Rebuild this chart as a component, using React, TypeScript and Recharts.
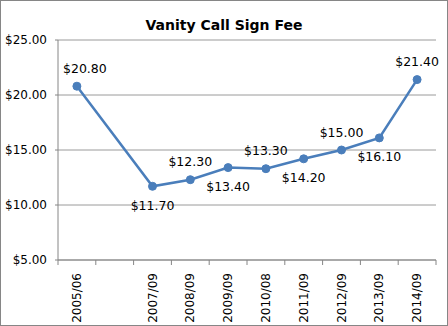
import React from 'react'
import { LineChart, Line, XAxis, YAxis, CartesianGrid, LabelList } from 'recharts'

const periods = ['2005/06', '', '2007/09', '2008/09', '2009/09', '2010/08', '2011/09', '2012/09', '2013/09', '2014/09']
const fees: (number | null)[] = [20.8, null, 11.7, 12.3, 13.4, 13.3, 14.2, 15.0, 16.1, 21.4]
const yTicks = [5, 10, 15, 20, 25]

const data = periods.map((period, i) => ({ period, fee: fees[i] }))

const FONT = '"DejaVu Sans", Verdana, sans-serif'
const AXIS_COLOR = '#868686'
const LINE_COLOR = '#4A7EBB'
const BAND = 37.8

const money = (v: number) => `$${v.toFixed(2)}`

// label order among real points: alternate above / below
const labelRank: number[] = []
let n = 0
fees.forEach((f, i) => {
  labelRank[i] = f == null ? -1 : n++
})

const XTick = (props: any) => {
  const { x, y, payload, index } = props
  const last = index === periods.length - 1
  return (
    <g>
      <line x1={x - BAND / 2} y1={y - 8} x2={x - BAND / 2} y2={y - 3} stroke={AXIS_COLOR} />
      {last && <line x1={x + BAND / 2} y1={y - 8} x2={x + BAND / 2} y2={y - 3} stroke={AXIS_COLOR} />}
      <text
        x={x}
        y={y + 5}
        transform={`rotate(-90, ${x}, ${y + 5})`}
        textAnchor="end"
        dominantBaseline="central"
        fontSize={12}
        fontFamily={FONT}
        fill="#000"
      >
        {payload.value}
      </text>
    </g>
  )
}

const FeeLabel = (props: any) => {
  const { x, y, value, index } = props
  if (value == null) return null
  const above = labelRank[index] % 2 === 0
  return (
    <text
      x={x + (index === 0 ? 8 : 0)}
      y={above ? y - 18 : y + 19}
      textAnchor="middle"
      dominantBaseline="central"
      fontSize={12.5}
      fontFamily={FONT}
      fill="#000"
    >
      {money(value)}
    </text>
  )
}

export default function App() {
  return (
    <div
      style={{
        position: 'absolute',
        left: 0,
        top: 0,
        width: 448,
        height: 326,
        boxSizing: 'border-box',
        border: `1px solid ${AXIS_COLOR}`,
        background: '#fff',
        fontFamily: FONT
      }}
    >
      <div
        style={{
          position: 'absolute',
          left: 0,
          right: 0,
          top: 16,
          textAlign: 'center',
          fontWeight: 'bold',
          fontSize: 14,
          color: '#000'
        }}
      >
        Vanity Call Sign Fee
      </div>
      <LineChart
        width={446}
        height={324}
        data={data}
        margin={{ top: 39, right: 11, bottom: 0, left: 0 }}
        style={{ position: 'absolute', left: 0, top: 0 }}
      >
        <CartesianGrid vertical={false} stroke="#9a9a9a" />
        <XAxis
          dataKey="period"
          scale="band"
          interval={0}
          stroke={AXIS_COLOR}
          tickLine={false}
          height={65}
          tick={<XTick />}
        />
        <YAxis
          domain={[5, 25]}
          ticks={yTicks}
          width={57}
          stroke={AXIS_COLOR}
          tickSize={3}
          tickMargin={8}
          tickFormatter={money}
          tick={{ fill: '#000', fontSize: 12, fontFamily: FONT }}
        />
        <Line
          dataKey="fee"
          stroke={LINE_COLOR}
          strokeWidth={2.5}
          connectNulls
          isAnimationActive={false}
          dot={{ r: 4, fill: LINE_COLOR, stroke: LINE_COLOR, strokeWidth: 1 }}
        >
          <LabelList dataKey="fee" content={<FeeLabel />} />
        </Line>
      </LineChart>
    </div>
  )
}
